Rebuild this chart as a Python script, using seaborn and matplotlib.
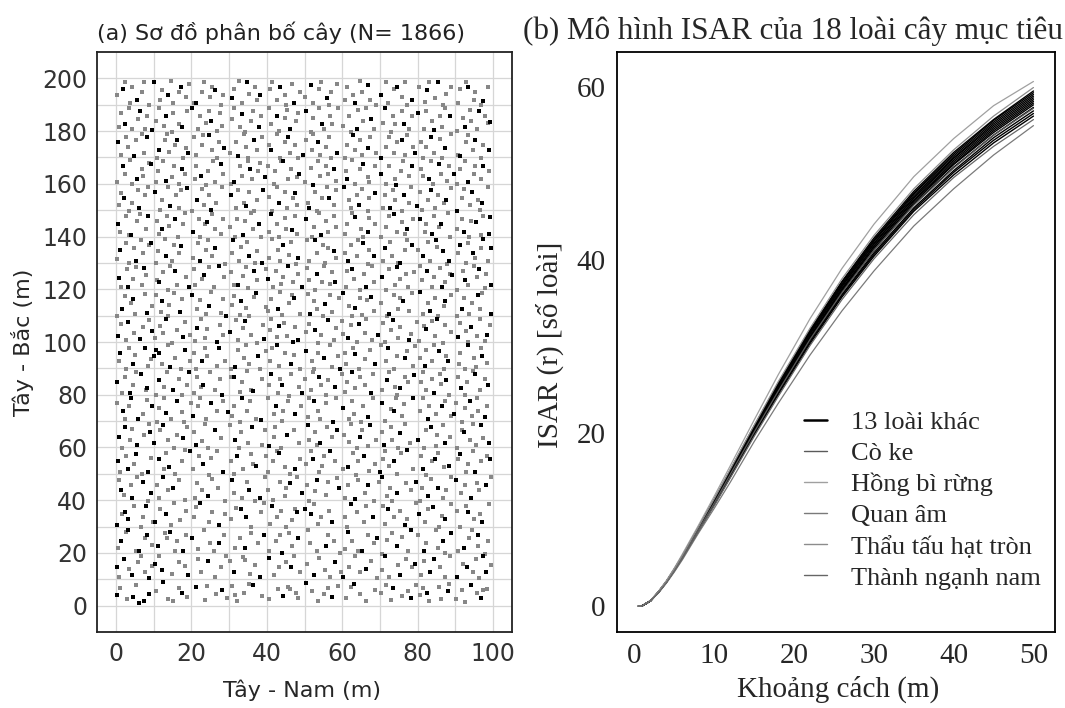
import numpy as np
import pandas as pd
import matplotlib
matplotlib.use("Agg")
import matplotlib.pyplot as plt
from matplotlib.lines import Line2D
import seaborn as sns

# ---- panel (a): tree positions "x,y" in m, suffix b = black (target) tree ----
tree_pts = """
0.4,4.1b 1.2,6.8 2.9,2.7 4.6,3.3b 6.1,0.9b 7.5,1.8b 5.3,7.9 8.8,4.4b 10.7,5.6 12.5,8.8b 13.9,2.4 15.2,1.9 16.8,6.7 17.4,4.8b 18.9,3.1
21.3,6.9b 23.7,2.2 24.1,7.6 26.6,4.5 28.2,5.9b 29.5,3.0 30.8,7.3 32.2,1.6 33.9,4.9 35.4,8.1 36.3,7.7b 38.7,3.8 31.6,4.1
40.5,2.5 42.9,6.4 44.2,3.7b 45.6,6.9 46.1,6.2 47.8,4.8 48.4,2.9 50.3,8.7b 51.9,5.7 53.6,1.8 55.1,4.3 56.2,6.6 57.4,3.2b 58.8,7.4
60.9,2.9 62.3,7.1 63.2,8.3b 64.8,4.6 66.4,1.7 68.7,5.8 70.2,4.9 71.6,8.0 72.8,2.1 73.5,6.6b 75.9,3.7 77.3,5.5 78.1,2.8b 79.6,7.9
80.6,3.9 82.4,4.9b 83.1,1.6 85.7,7.2 86.2,2.4 87.9,5.6b 88.4,8.2 81.3,6.8 90.1,2.7 91.7,5.9 92.6,1.3 94.2,7.8b 95.8,4.7 96.9,2.8b 98.3,6.5 97.4,6.0
0.3,14.6b 0.8,10.9 2.1,17.7b 3.4,13.9 4.2,11.8b 5.9,16.5 7.6,12.8 8.9,10.6b 6.7,18.8 9.5,15.2 10.4,15.8b 12.1,13.6b 11.3,18.9 14.8,12.1 16.6,16.7 18.3,14.9 19.2,11.7b
21.7,17.6 22.5,12.9 24.3,16.8b 26.2,10.7 27.8,14.7 29.1,18.9 31.4,12.7b 30.2,16.9 33.7,18.6 35.5,11.9 36.9,15.6 38.1,10.8b 34.2,17.4
40.6,17.9b 41.8,11.6 43.3,14.6 46.4,14.8b 47.2,18.7 48.9,12.7 45.1,16.6 52.4,11.8b 50.7,15.7 53.9,17.9 55.3,13.6 56.8,10.9 58.1,16.6b 59.6,12.8
60.2,10.8b 61.9,14.7 63.4,18.8 64.6,12.6 66.3,13.8b 67.7,16.9 69.1,10.6 71.3,18.8b 70.6,13.7 72.4,10.9 74.8,15.6 75.2,11.7b 76.9,17.8 78.5,14.8 79.3,15.9b
80.9,11.8 81.6,16.8 83.2,12.7b 84.4,17.6b 85.8,14.6 87.3,10.7 88.6,18.7 90.4,10.8b 91.9,15.8 93.1,14.6b 94.7,12.6 95.5,17.7 97.2,18.8b 98.1,12.7b 99.3,15.6 96.2,10.4
0.6,21.8 1.3,24.7b 2.8,27.9 3.1,28.8b 5.4,20.6 6.2,20.9b 7.7,25.8 8.3,26.7b 9.6,22.9 11.2,22.7b 12.9,27.6 14.4,27.8b 15.7,20.8 16.3,24.6 17.9,20.7b 18.6,26.8 13.6,25.7
20.3,25.7b 21.8,21.6 23.4,28.7 24.9,23.8 26.1,20.9 27.3,23.6b 28.7,26.8 31.5,21.7 32.8,25.6 34.3,21.8b 35.9,27.7 37.6,23.9 39.2,26.7b
40.7,20.8 42.4,24.7 44.1,19.9b 45.8,27.6 46.6,22.7 48.3,25.8b 43.5,26.9 50.9,28.8 51.5,23.7 53.2,20.7 55.6,22.8b 56.3,26.7 57.9,24.6 59.4,19.8
60.8,21.6 61.4,27.9b 62.7,24.7 64.3,20.8 65.1,20.6b 66.9,26.8 68.5,23.7 69.2,25.6b 70.5,19.7 71.9,24.8 73.2,27.7 74.6,22.6b 75.8,25.9 77.4,20.7 78.3,28.8b
80.2,26.8 81.7,20.9b 82.3,23.8 84.8,28.6 85.4,21.7 86.6,24.6b 87.2,19.8 88.9,27.7b 90.7,20.7 92.3,21.8b 93.6,25.7 94.4,28.7 95.9,22.8 96.1,26.9b 97.8,19.6 98.6,24.7
0.2,30.7b 1.6,34.8 2.4,35.7b 3.3,32.8b 4.7,37.9 6.6,29.8 7.3,33.7 8.1,37.8b 9.8,31.6 10.3,31.8b 11.8,36.7 13.2,34.8b 14.6,30.7 15.4,38.9 17.1,32.6 18.7,35.8
20.6,33.7 21.2,37.6 22.3,38.8b 24.8,31.9 25.5,35.7 27.4,30.6b 28.9,34.7 30.4,32.8 31.9,36.9 33.1,36.7b 34.6,33.8b 35.7,29.9 38.4,35.6 39.3,38.8
40.9,30.8 41.3,37.8b 42.6,33.7 43.8,35.9 45.2,29.7 46.7,32.6 47.4,36.8 48.1,35.6b 50.2,36.7b 51.8,34.8b 52.5,38.7 53.7,30.9 54.3,33.6 56.6,35.8 57.2,31.7b
60.6,33.8 61.2,29.8 62.4,38.6b 63.9,35.7 65.7,31.8 66.3,37.9 68.2,33.6b 70.8,37.7 71.4,30.8 72.1,36.6b 73.6,33.7 75.3,35.9 76.7,30.6b 77.2,32.8 79.5,38.8
80.3,34.7b 81.9,31.7 82.6,36.8 84.1,37.6b 85.7,29.8 86.5,33.9 87.3,32.7b 88.8,38.6 90.4,35.8 91.2,29.7 92.7,37.7 93.3,35.6b 94.9,32.8 96.5,34.9 97.1,31.8b 98.8,38.7
0.7,47.8 1.4,43.7b 2.2,41.8 3.9,45.9 4.3,40.7b 5.6,48.9 7.2,46.8b 8.6,39.8 9.4,42.7b 10.8,45.7 11.3,40.8 12.6,48.8b 13.9,43.8 15.2,44.7b 16.7,47.8 18.4,39.9
20.9,40.8 21.5,46.7 22.8,43.9 24.3,41.7b 25.6,47.9 27.1,44.6 28.8,39.8 30.7,47.7b 31.2,42.8 33.4,40.9 34.8,46.8 35.3,43.7b 36.9,39.7 38.2,40.8b 39.5,48.8
40.3,43.8 41.7,39.9 43.6,46.9 44.8,41.7 46.2,46.7b 45.1,44.8 47.9,48.7 49.3,42.6b 50.6,45.8 51.3,39.7 52.9,43.6 53.4,47.8b 55.8,41.8 56.2,46.9 58.7,48.6 59.1,44.7b
60.8,40.8 61.6,45.9 63.3,40.6b 64.1,47.7 65.9,42.8 66.7,45.8b 68.3,39.6 69.7,46.8 70.4,48.8b 71.8,41.6 72.6,44.7 73.2,39.8 74.5,42.7b 76.8,46.6 78.3,43.8 79.6,46.9b
80.5,39.7 81.2,44.8 82.7,41.7b 83.4,47.9 85.3,44.6b 86.8,40.8 87.6,43.9 88.9,48.8 90.2,47.7b 91.6,42.8 92.4,45.9 94.1,40.8b 95.7,46.7 96.3,43.7 98.2,45.8b 99.4,48.7
0.5,54.7b 1.1,50.8 2.6,56.9 3.2,51.7b 4.8,53.8 5.3,57.7b 6.9,49.8 8.4,50.8b 9.2,55.9 11.4,55.8b 12.7,51.9 13.3,57.8 14.1,52.7b 15.8,49.9 17.6,54.8 18.2,58.9 19.7,58.6b
20.4,51.8 21.9,56.7 23.1,53.8b 24.6,49.7 25.3,55.9 26.8,58.8 28.4,50.7b 30.6,54.8 31.3,49.9 32.2,56.8b 33.7,51.9 35.9,57.7 36.4,53.6 37.1,52.8b 39.8,56.7
40.3,50.8 41.6,54.9 42.8,58.7 43.3,57.8b 44.9,52.7 46.2,49.8 47.5,51.7b 48.7,55.8 50.4,53.9 51.7,58.8 52.3,55.8b 53.9,50.7 54.6,52.8 55.2,56.9 56.7,58.6b 58.1,54.7
60.2,51.8 61.4,52.7b 62.9,57.8 63.6,49.7 64.3,54.9 65.8,56.8b 67.2,50.9 68.6,53.8 69.9,50.6b 70.7,55.8 71.3,58.7 72.5,52.8 73.8,54.7b 74.4,49.9 75.6,57.8 77.1,58.9b 78.8,51.7
80.8,56.9 81.4,51.8b 82.2,49.7 83.9,54.8 84.5,55.7b 85.3,57.9 86.9,52.6 88.2,52.8b 90.6,55.8 91.3,57.7b 92.8,50.8 93.4,53.9 94.7,58.8 95.2,50.7b 96.8,54.9 98.4,56.8 99.1,55.6b
0.8,63.8b 1.5,59.9 2.3,67.8b 3.7,62.7 4.2,66.9 5.6,60.8b 7.4,64.7 8.7,68.8 9.1,65.7b 10.2,61.8b 11.6,66.8 12.4,68.7b 13.8,62.9 15.3,59.8 16.1,64.8 17.7,63.7b 18.9,67.8
20.7,65.7 21.2,60.8b 22.9,62.6 23.6,68.8 24.3,59.9 26.4,66.8b 27.8,63.7 30.3,68.7 31.5,62.8b 32.7,59.8 33.2,65.9 34.9,61.7 36.2,67.6b 38.6,60.8 39.4,66.7
40.5,60.7b 41.9,63.8 42.3,67.9 43.7,59.7 45.3,64.9b 47.1,66.8 48.6,61.8 50.8,68.6b 51.2,62.8 52.7,65.7 53.4,60.9 54.1,61.8b 55.9,67.7 57.3,63.8 58.5,66.7b
60.4,64.7 61.7,61.9 62.3,68.8 63.9,59.8 64.6,63.9b 65.2,66.6 66.8,60.7 67.4,68.7b 68.9,62.8 70.6,65.8 71.1,60.9b 72.8,67.7 73.3,62.9 74.7,59.9 75.4,65.6b 76.6,68.9 77.9,61.8
80.1,62.7b 81.7,59.8 82.3,66.7 83.6,67.9b 84.8,60.6 85.2,64.8 86.7,68.6 87.1,61.7b 88.5,63.8 90.3,59.7 91.8,66.6 92.2,65.8b 93.9,62.7 94.6,68.8 95.4,60.9 96.7,68.7b 97.3,63.6 98.9,61.8b
0.4,76.8 1.9,73.7b 2.5,70.9 3.6,75.7 4.1,78.8b 5.8,70.7b 7.3,72.8 8.2,77.9 9.7,75.8b 10.9,69.8 11.4,74.8 12.8,78.7 13.2,72.9b 14.7,70.8 16.3,77.7b 17.6,73.6 18.1,69.7 19.8,76.8
20.5,71.8b 21.7,75.9 22.2,78.8 23.8,70.7 25.1,76.7b 26.9,73.8 28.3,77.7 29.6,73.6b 30.7,71.9 31.3,75.7 32.9,69.8 33.4,78.6b 34.8,73.8 35.6,77.8 37.2,70.8 38.5,70.6b
40.2,78.8 41.8,72.7 42.4,75.8b 43.9,69.9 44.3,73.7 45.7,77.6 47.4,72.8b 49.1,75.9 50.9,71.7 51.3,78.9 52.5,77.8b 53.7,73.9 54.2,70.7 55.8,76.8 57.6,69.8b 58.3,78.7
60.3,74.8b 61.8,70.9 62.6,77.7 63.2,72.8 64.9,69.7 65.4,75.8 66.7,71.7b 68.1,78.6 70.5,76.8b 71.2,69.9 72.9,74.7 73.6,73.8b 74.3,78.7 75.8,71.8 76.4,76.6 78.7,78.8b
80.7,73.7 81.3,78.8 82.6,70.8b 83.1,75.9 84.8,72.7 86.4,75.7b 87.2,77.8 88.9,71.8 89.5,72.7b 90.2,76.7 91.7,69.8 92.4,74.8 93.8,77.7b 94.3,71.9 95.6,78.9 96.1,73.8 97.7,71.7b 98.4,75.8
0.3,84.8b 1.7,80.7 2.4,86.9 3.8,80.8b 4.5,83.7 5.2,88.8 6.6,87.7b 7.9,81.8 8.3,82.7b 10.6,79.8 11.3,85.7b 12.7,82.9 13.5,88.7 15.1,81.8b 16.8,85.9 17.4,79.9 18.9,83.8 19.4,88.6b
20.8,80.8 21.4,86.7 22.6,82.8 23.2,83.6b 24.9,88.8 26.3,81.7 27.7,85.8 28.1,79.8b 30.5,86.8 31.2,86.6b 32.8,80.9 33.3,84.7 34.7,88.9 35.9,81.8 36.4,81.6b 38.8,85.8
40.7,83.8 41.2,87.7b 42.9,80.7 43.6,85.9 44.1,83.7b 45.8,79.7 46.3,87.8 48.6,82.9 49.2,80.8b 50.1,85.8 51.6,81.7 52.2,88.7 53.9,86.8b 54.4,83.6 55.7,79.9 56.3,85.7 58.2,82.8b 59.8,87.8
60.6,80.9 61.3,84.8 62.7,88.6b 63.4,82.7 64.8,86.9 66.1,83.8 67.5,80.8b 68.2,87.7 70.4,81.8 71.8,85.6b 72.3,88.8 73.9,82.9 74.6,79.8 75.2,82.7b 76.7,86.8 77.4,84.8 79.1,87.6b
80.9,84.9 81.5,88.7 82.1,81.8 83.7,85.8 84.3,80.7b 85.8,87.8 86.2,83.9 87.6,85.7b 88.4,79.8 90.8,86.8 91.4,82.7b 92.6,79.9 93.1,84.8 94.7,88.9 95.3,87.7b 96.6,81.8 97.9,85.9 98.5,83.7b
0.9,92.7 1.2,95.8b 2.7,89.9 3.4,97.7 4.6,91.8b 5.1,94.9 7.8,97.8b 8.5,90.8 9.3,93.7 10.2,94.8b 10.7,96.9b 11.5,95.7b 12.3,91.8 13.8,98.7 14.4,90.6b 15.6,93.9 17.2,89.8 18.3,96.8b 19.7,92.8
20.6,95.8 21.3,89.9 22.8,92.7b 23.5,97.8 24.1,94.7 26.7,90.8 27.2,97.7b 28.9,92.9 30.4,89.8 31.6,90.7b 32.3,96.8 33.9,93.8 34.5,98.9 35.2,91.7 37.7,94.8b 38.3,89.7 39.9,96.7
40.8,92.8 41.4,97.9 42.6,98.7b 43.2,90.8 44.7,95.8 46.5,91.7b 47.3,94.9 48.8,89.8 50.3,96.7b 51.9,92.9 52.4,89.7 53.6,95.9 55.1,93.8b 56.7,98.8 57.2,90.7 58.9,94.8 59.5,89.8b
60.7,95.7 61.1,91.8 62.8,97.9 63.3,95.6b 64.5,89.9 65.9,93.7 67.4,96.8 68.6,91.7b 70.3,98.8 71.6,92.7 72.2,97.7b 73.8,89.8 74.4,94.8 76.6,93.9b 77.1,96.7 78.7,90.8 79.2,98.6
80.5,93.8 81.8,90.9b 82.2,96.8 83.7,92.7 84.3,98.9 85.6,96.7b 86.9,89.7 87.4,94.8 88.1,92.8b 90.9,91.8 91.3,95.9 92.6,89.8 93.2,98.7b 94.8,93.8 95.4,90.7 96.7,97.8 97.1,94.7b 98.3,91.9
0.6,102.4b 1.3,106.9 2.8,100.7 3.2,107.5b 4.9,103.6 6.4,101.2b 7.1,105.8 8.7,108.3 9.5,104.1b 10.3,101.6 11.8,106.2 12.5,103.3 13.4,108.9b 14.9,99.8 16.2,104.7 17.7,101.9b 18.4,107.6 19.6,102.5
20.9,100.3 21.4,105.5b 22.6,108.7 23.7,101.4 24.2,104.9 26.8,99.9b 27.5,106.6 28.3,102.8 30.2,103.7b 31.9,108.2 32.4,100.9 33.6,105.3 34.1,107.8b 35.8,102.6 37.3,99.7 38.9,106.4 39.2,101.1b
40.8,104.5 41.1,108.6 42.7,101.8 43.3,105.9b 44.6,107.4 45.4,102.2 46.9,100.1b 47.5,105.6 48.2,100.8b 50.5,103.9 51.2,106.7 52.8,104.6b 53.6,99.8 54.3,102.7 56.1,108.4b 57.7,100.6 58.4,105.2 59.9,107.9
60.1,102.9 61.6,101.7b 62.2,106.5 63.8,100.2 64.4,106.8b 65.9,103.5 66.3,108.7 67.8,100.9 69.5,102.6b 70.7,107.3 71.2,99.9 72.9,104.4 73.4,108.5b 74.8,101.6 75.3,105.7 77.6,100.8b 78.2,103.2 79.9,107.6
80.4,100.5 81.7,105.9 82.3,104.8b 83.9,108.1 84.6,102.4 85.2,108.6b 86.8,99.7 87.3,106.3 88.7,103.8 90.6,101.9b 91.1,107.4 92.9,104.2 93.4,99.9 94.2,105.7b 95.7,102.3 96.4,108.8 97.8,100.4 98.3,102.7b 99.1,106.5
0.2,109.8 1.7,112.6b 2.4,117.3 3.9,114.8 4.5,116.5b 5.1,110.7 7.8,118.4 8.3,110.9b 9.6,113.6 10.5,117.8 11.9,111.3 12.2,115.6b 13.7,109.9 14.1,113.9 15.4,118.7 16.9,111.5b 17.5,116.3
20.2,117.7b 21.6,112.4 22.3,115.8 23.8,110.6 24.7,113.5b 25.2,118.9 27.9,111.2 28.4,116.4 29.3,109.7b 30.9,114.2 31.4,117.6 32.8,110.3 33.1,115.7b 34.6,112.8 35.3,109.8 36.7,116.9 37.2,118.6b 39.8,113.4
40.4,111.7 41.2,116.3 42.9,112.6b 43.5,118.8 44.1,110.2 45.8,114.9 46.6,117.7 47.3,116.8b 48.9,110.5 50.8,118.3 51.4,110.8b 52.6,115.4 53.2,112.7 54.9,109.9 55.3,114.6b 56.7,117.9 57.4,111.3 59.1,116.7
60.3,118.6b 61.9,113.5 62.6,109.8 63.4,112.9b 64.8,116.6 65.2,110.4 66.6,115.8 67.7,116.9b 68.4,111.6 70.2,114.7 71.8,109.9 72.3,110.8b 73.6,117.9 74.9,112.5 75.4,116.8 76.1,115.7b 77.7,111.8 78.5,118.6
80.6,118.8b 81.3,110.6 82.8,114.7 83.2,111.7b 84.7,116.8 85.4,109.8 86.9,113.8 87.3,115.6b 88.8,117.9 90.4,109.9 91.7,112.7b 92.2,116.6 93.6,110.8 94.3,114.9 95.9,117.8b 96.5,112.4 97.1,118.7 99.3,110.6b
0.7,124.3b 1.4,120.8 2.9,127.6 3.3,120.7b 4.6,123.8 5.2,128.6 6.8,121.7 7.4,127.9b 8.1,125.4 10.8,123.5 11.3,122.8b 12.6,126.7 13.9,119.8 14.4,128.7 15.7,126.9b 16.2,121.6 18.5,124.7 19.3,120.9b
20.7,127.8 21.1,121.7 22.8,123.9 23.4,125.6b 24.6,128.6 25.9,120.8 27.2,128.9b 28.6,124.8 30.6,126.7 31.2,121.8 32.3,121.6b 33.8,124.9 34.5,128.5 35.1,120.6 36.7,126.8b 37.3,123.7 39.9,127.6
40.2,123.8b 41.7,120.7 42.4,126.9 43.8,121.9 44.3,124.6 45.6,128.8b 46.9,122.7 48.2,125.9 49.4,120.8b 50.6,127.9 51.2,123.6 52.9,119.9 53.3,125.8b 54.7,122.8 55.1,128.7 56.8,121.9 57.4,126.6 58.2,122.7b
60.9,120.8 61.3,126.9 62.7,127.7b 63.1,123.8 64.6,119.7 65.8,125.9 66.4,120.9b 67.9,128.8 68.3,122.6 70.4,124.8b 71.6,119.9 72.3,127.8 73.9,121.7 74.5,128.6b 75.2,123.9 76.8,125.8 77.3,120.7 78.9,126.7
80.7,128.8 81.2,123.7 82.4,126.8b 83.8,120.9 84.3,124.7 85.9,127.9 86.5,120.8b 87.1,122.9 88.6,125.7 89.2,125.6b 90.3,119.8 91.9,126.8 92.5,123.7b 93.2,121.8 94.8,128.7 95.6,124.8 96.3,127.8b 97.7,120.6 98.2,125.9 99.4,121.7b
0.4,131.6 1.1,134.8b 2.7,137.7 3.5,129.9 4.9,135.8 5.3,130.7b 6.6,138.8 7.2,133.7 8.8,136.8 9.4,137.6b 10.6,129.8 11.2,134.7 12.9,138.9 13.3,132.8b 14.8,130.8 15.5,136.8 16.7,133.8 17.3,136.6b
20.4,131.8 21.7,137.7 22.2,130.9b 23.8,134.8 24.3,138.7 25.6,132.8 26.2,135.7b 28.9,129.7 30.8,133.7 31.1,138.6b 32.6,130.8 33.2,135.9 34.7,137.8 35.3,132.7b 36.9,129.8 37.4,134.7 38.7,129.9b
40.5,131.8 41.3,138.9 42.9,134.8 43.6,130.7 44.2,136.8b 45.8,132.9 46.4,137.8 47.7,129.6 48.3,131.7b 50.6,138.7 51.2,130.8 52.8,138.6b 53.4,133.9 54.9,136.7 55.5,129.8 56.2,135.8 57.7,134.6b 58.3,131.9
60.7,133.8 61.4,130.7b 62.2,136.9 63.8,132.7 64.3,138.8 65.6,137.6b 66.9,129.7 67.1,134.8 68.5,132.8b 70.9,130.9 71.3,135.7b 72.6,137.9 73.2,132.6 74.8,129.8 75.4,129.9b 76.7,134.9 77.2,138.7 78.6,136.7b
80.2,134.8 81.5,132.7b 82.8,137.8 83.3,130.8 84.9,138.6b 85.2,135.9 86.6,134.6b 87.8,129.7 88.4,130.7b 90.7,133.8 91.2,136.8b 92.8,129.9 93.4,137.7 94.6,133.6b 95.1,131.8 96.9,135.7 97.3,138.9b 98.7,130.8 99.5,135.6b
0.6,144.7b 1.2,141.8 2.8,147.9 3.4,140.7 4.1,140.6b 5.7,145.8 6.3,148.7 7.9,142.8 8.5,147.7b 10.9,145.9 11.4,140.8 12.3,142.7b 13.6,147.8 14.2,143.9 15.8,146.7b 16.4,139.8 17.7,144.8 18.3,148.9
20.5,141.7b 21.9,146.8 22.4,139.7 23.7,144.9 24.2,145.7b 25.6,148.6 26.3,142.9 27.8,140.8 28.4,146.7 30.3,143.8 31.7,139.9 32.2,146.8 33.6,140.7b 34.1,145.9 35.8,148.8 36.4,142.7 37.9,144.6b 38.5,139.8
40.6,141.9 41.2,148.7b 42.8,144.8 43.3,139.7 44.7,146.9 45.2,142.8 46.8,142.6b 47.4,147.7 48.1,140.9 50.4,146.8b 51.9,139.9 52.5,143.7 53.8,148.8 54.3,140.7b 55.6,145.9 56.2,141.8 57.7,147.7 58.3,143.8
60.8,140.9 61.2,144.7 62.6,148.8 63.3,147.6b 64.9,142.8 65.4,139.9 66.8,141.8b 67.2,146.9 68.7,144.8 70.2,139.7 71.6,143.8 72.3,147.9 73.8,148.7b 74.4,141.9 75.9,145.7 76.5,140.8 77.1,142.7b 78.8,146.8
80.5,146.7b 81.8,141.6 82.3,144.9 83.7,140.8b 84.2,147.8 85.6,143.7 86.3,144.8b 87.9,148.9 88.6,139.8 90.4,142.9 91.8,146.7 92.3,141.8b 93.7,139.9 94.2,145.8 95.5,145.6b 96.9,140.7 97.4,147.8 98.8,140.9b 99.2,147.6b
0.9,151.8 1.4,156.7 2.2,154.6b 3.6,149.8 4.3,152.9 5.8,157.8 6.2,150.8b 7.7,155.7 8.4,158.9 10.3,156.8b 11.6,149.9 12.2,153.7 13.7,158.8 14.3,151.7b 15.9,155.8 16.6,150.7 17.2,157.7 18.8,158.6b
20.2,149.8 21.5,153.7b 22.9,157.9 23.4,151.8 24.8,155.6 25.3,149.9b 26.6,152.8 28.2,158.7 30.4,155.8b 31.8,150.7 32.3,157.7 33.9,152.9 34.5,151.6b 35.2,156.8 36.7,149.7 37.3,153.8 38.9,157.6b
40.7,154.9 41.3,149.8 42.6,158.8 43.2,152.7b 44.8,156.9 45.4,150.8 46.9,154.7 47.5,156.6b 48.1,151.9 50.8,152.7 51.3,150.9b 52.7,156.8 53.2,149.7 54.6,154.8 55.9,158.9 56.4,154.6b 57.8,151.8 58.3,157.7
60.4,158.7b 61.7,153.8 62.2,150.9 63.9,155.7 64.5,151.8b 65.3,157.9 66.8,149.8 67.2,154.8 68.7,156.7b 70.9,150.7 71.3,155.9 72.7,150.8b 73.5,157.7 74.1,153.9 75.8,149.7 76.4,155.8b 77.6,152.7 78.2,158.8 79.7,151.6b
80.6,156.9 81.2,149.9 82.8,153.8 83.4,157.7b 84.7,150.8 85.3,155.7 86.9,152.9 87.4,153.7b 88.8,158.6 90.3,149.8b 91.7,154.8 92.2,157.9 93.8,151.8 94.3,156.8b 95.9,153.7 96.5,149.9 97.1,152.8b 98.6,158.7
0.3,160.8 1.8,166.7b 2.4,163.8 3.7,168.9 4.2,159.9 5.6,161.8b 6.9,165.7 7.3,162.8 8.8,167.8 9.4,167.6b 10.7,160.7 11.2,164.8 12.6,168.8 13.3,160.9b 14.9,162.7 15.4,166.9 16.8,159.8 17.6,165.7b 18.2,163.9
20.9,161.9 21.2,166.8 22.5,162.8b 23.9,159.7 24.3,164.8 25.7,168.7 26.2,160.8 27.8,167.7b 28.4,163.7 30.6,159.9 31.3,160.7b 32.8,166.8 33.4,162.9 34.9,168.8 35.6,165.7b 36.2,161.8 37.7,164.9 38.3,167.8 39.6,162.7b
40.4,166.8 41.9,159.8 42.3,164.7 43.8,168.6 44.2,168.8b 45.7,161.9 46.3,165.8 47.9,162.7 48.5,163.8b 50.2,160.8 51.8,165.9 52.3,159.7b 53.6,168.8 54.1,162.8 55.7,166.7 56.3,163.9 57.8,165.6b 58.4,160.9
60.9,164.8 61.2,161.7b 62.7,168.9 63.3,159.8 64.8,165.7 65.4,167.6b 66.9,162.7 67.2,160.8 68.6,166.9 70.3,163.7b 71.7,159.9 72.4,166.8 73.9,161.9 74.3,159.7b 75.6,164.8 76.2,168.7 77.7,162.9 78.4,166.6b
80.8,165.8 81.3,162.8 82.9,161.7b 83.5,168.8 84.1,159.9 85.7,167.7b 86.3,163.8 87.8,160.9 88.4,166.7 89.6,163.8b 90.5,159.8 91.2,165.7 92.6,168.8 93.3,160.7b 94.8,163.9 95.3,166.8 96.7,161.8 97.2,166.6b 98.8,164.7
0.5,175.8b 1.3,170.9 2.8,177.7 3.2,173.8 4.7,170.7b 5.4,176.8 6.9,178.9 7.5,171.8 8.2,177.7b 10.8,169.9 11.4,172.8b 12.9,176.7 13.5,178.8 14.2,171.9 15.7,174.7 16.3,176.8b 17.8,169.8 18.6,173.7 19.2,171.7b
20.6,177.8 21.3,170.8 22.7,174.9 23.2,178.7 24.8,178.6b 25.4,172.8 26.9,169.7 27.3,175.8 28.7,173.6b 30.2,171.8 31.8,175.7 32.4,170.6b 33.9,178.8 34.5,173.9 35.1,169.8 36.6,176.7b 37.3,172.8 38.8,177.9
40.7,174.8 41.2,172.9b 42.6,178.8 43.4,169.7 44.9,175.8 45.5,177.6b 46.1,171.8 47.6,174.7 48.3,169.9 49.7,170.8b 50.4,176.8 51.9,172.7 52.3,178.9 53.7,175.7b 54.2,170.8 55.8,173.9 56.5,177.8 57.1,169.8 58.6,171.7b
60.6,169.9 61.2,174.8 62.8,178.6b 63.3,172.7 64.6,176.8 65.2,170.9 66.7,173.6b 67.4,177.7 68.9,171.8 70.2,169.7b 71.6,173.8 72.3,177.9 73.8,171.7 74.4,175.8 75.9,176.7b 76.5,170.8 77.2,178.7 78.7,173.9 79.3,171.6b
80.9,175.7 81.5,169.9 82.1,173.8 83.6,177.7b 84.3,171.8 85.8,176.9 86.4,169.8 87.1,173.7b 88.7,178.8 90.6,170.8 91.2,170.6b 92.8,175.9 93.3,178.7 94.7,172.8 95.2,176.6b 96.8,169.7 97.4,174.8 98.9,172.7b
0.8,181.7 1.4,186.8 2.3,182.6b 3.6,188.8 4.2,180.9 5.9,184.7 6.4,187.7b 7.8,180.8 8.3,185.9 9.7,180.6b 10.6,183.8 11.3,188.7 12.8,181.9 13.4,185.8b 14.9,179.8 15.2,186.9 16.7,182.8 17.4,181.6b 18.9,187.8
20.3,188.6b 21.7,180.8 22.4,185.7 23.9,182.9 24.6,187.8 25.2,183.7b 26.8,179.9 27.5,186.8 28.2,181.8 30.7,184.7 31.3,188.9 32.9,181.7 33.5,186.6b 34.1,179.8 35.7,183.9 36.3,187.8 37.8,181.7b 38.4,185.8
40.6,188.8 41.2,182.7 42.8,185.6b 43.3,179.9 44.9,184.8 45.4,187.9 46.2,180.8b 47.7,183.7 48.3,186.8 50.4,187.7b 51.8,179.8 52.3,184.9 53.9,188.8 54.5,182.7b 55.1,180.9 56.7,185.8 57.3,182.8 58.8,188.7
60.3,181.8 61.8,185.9 62.4,179.7 63.9,180.8b 64.3,187.9 65.6,183.8 66.2,188.8 67.7,184.6b 68.3,180.7 70.8,182.9 71.4,188.6b 72.9,179.8 73.5,185.7 74.1,182.7 75.7,187.8 76.3,182.6b 77.8,180.8 78.4,185.9
80.2,186.7b 81.7,180.9 82.3,187.8 83.8,183.7 84.4,180.6b 85.9,185.8 86.5,181.7 87.1,188.9 88.6,185.6b 90.3,179.9 91.9,184.8 92.4,181.6b 93.8,187.9 94.2,183.8 95.7,180.7 96.3,187.6b 97.9,185.8 98.5,182.9 99.2,183.6b
0.4,193.7 1.8,195.8b 2.3,198.8 3.7,190.8 4.2,196.9 5.6,191.7b 6.9,194.8 7.4,198.7 8.8,189.9 10.2,198.6b 11.8,191.8 12.3,195.7 13.9,193.6b 14.5,198.9 15.2,190.7 16.8,194.9 17.3,196.8b 18.7,192.8 19.4,197.7
20.6,190.8 21.2,190.6b 22.8,194.7 23.3,198.8 24.9,192.9 25.6,196.8 26.2,195.7b 27.8,189.8 28.4,193.8 30.7,192.7b 31.2,195.8 32.6,198.9 33.3,190.7 34.8,198.6b 35.4,193.9 36.9,196.8 37.5,191.7 38.1,193.6b
40.9,195.8 41.3,198.8 42.7,191.9 43.4,196.7b 44.8,193.8 45.2,189.8 46.6,197.9 47.3,190.7b 48.8,194.8 50.2,192.8 51.7,197.6b 52.3,190.8 53.8,195.9 54.4,198.8 55.9,192.6b 56.5,189.9 57.1,194.8 58.7,197.7
60.8,191.8 61.3,196.7 62.9,193.8 63.4,190.6b 64.6,198.9 65.2,194.7 66.7,197.6b 67.3,191.9 68.9,189.8 70.3,193.7b 71.7,198.8 72.2,190.8 73.8,195.8 74.4,196.6b 75.9,192.8 76.5,198.7 77.2,189.9 78.6,191.7b
80.4,196.8 81.9,190.9 82.5,195.6b 83.1,198.8 84.7,192.7 85.3,198.6b 86.8,189.8 87.4,193.9 88.9,196.7 90.6,190.8 91.2,195.9 92.8,198.8 93.4,196.6b 94.9,191.8 95.3,194.7 96.7,189.9 97.2,191.6b 98.6,196.8
"""

# ---- panel (b): ISAR curves, distance r (m) ----
dist = [0.5, 1, 2, 3, 4, 5, 6, 8, 10, 12, 15, 18, 22, 26, 30, 35, 40, 45, 50]

co_ke = [0, 0.05, 0.6, 1.6, 2.8, 4.15, 5.65, 8.8, 11.9, 15.2, 20.1, 24.8, 30.8, 36.2, 41.1, 46.3, 50.6, 54.4, 57.5]
hong_bi_rung = [0, 0.05, 0.65, 1.7, 2.95, 4.4, 6.0, 9.3, 12.7, 16.2, 21.5, 26.7, 33.2, 39.0, 44.1, 49.6, 54.0, 57.8, 60.6]
quan_am = [0, 0.05, 0.6, 1.5, 2.65, 3.95, 5.35, 8.4, 11.3, 14.3, 19.0, 23.4, 29.0, 34.1, 38.7, 43.9, 48.2, 52.1, 55.5]
thau_tau = [0, 0.05, 0.6, 1.65, 2.85, 4.3, 5.85, 9.1, 12.4, 15.8, 20.9, 25.9, 32.1, 37.8, 42.8, 48.2, 52.7, 56.6, 59.9]
thanh_nganh = [0, 0.05, 0.6, 1.55, 2.7, 4.05, 5.5, 8.6, 11.6, 14.8, 19.6, 24.2, 30.1, 35.4, 40.1, 45.2, 49.5, 53.1, 56.2]

others = [
    [0, 0.05, 0.6, 1.6, 2.75, 4.1, 5.55, 8.6, 11.7, 14.9, 19.8, 24.4, 30.3, 35.7, 40.4, 45.6, 49.8, 53.5, 56.6],
    [0, 0.05, 0.6, 1.6, 2.75, 4.1, 5.6, 8.7, 11.8, 15.0, 19.9, 24.6, 30.5, 35.9, 40.6, 45.8, 50.1, 53.8, 56.9],
    [0, 0.05, 0.6, 1.6, 2.8, 4.15, 5.6, 8.7, 11.9, 15.1, 20.0, 24.7, 30.7, 36.0, 40.8, 46.0, 50.3, 54.1, 57.2],
    [0, 0.05, 0.6, 1.6, 2.8, 4.15, 5.65, 8.8, 11.9, 15.2, 20.1, 24.9, 30.9, 36.3, 41.1, 46.4, 50.7, 54.4, 57.6],
    [0, 0.05, 0.6, 1.6, 2.8, 4.2, 5.7, 8.8, 12.0, 15.3, 20.2, 25.0, 31.0, 36.5, 41.3, 46.6, 51.0, 54.7, 57.9],
    [0, 0.05, 0.6, 1.6, 2.8, 4.2, 5.7, 8.9, 12.0, 15.3, 20.3, 25.1, 31.1, 36.6, 41.5, 46.8, 51.1, 54.9, 58.1],
    [0, 0.05, 0.6, 1.6, 2.8, 4.2, 5.7, 8.9, 12.1, 15.4, 20.4, 25.2, 31.2, 36.7, 41.6, 46.9, 51.3, 55.1, 58.3],
    [0, 0.05, 0.6, 1.6, 2.8, 4.2, 5.7, 8.9, 12.1, 15.4, 20.4, 25.2, 31.4, 36.9, 41.8, 47.1, 51.5, 55.3, 58.5],
    [0, 0.05, 0.6, 1.6, 2.8, 4.2, 5.75, 9.0, 12.2, 15.5, 20.5, 25.3, 31.5, 37.0, 41.9, 47.2, 51.7, 55.5, 58.7],
    [0, 0.05, 0.6, 1.6, 2.8, 4.25, 5.75, 9.0, 12.2, 15.5, 20.6, 25.4, 31.6, 37.1, 42.1, 47.4, 51.8, 55.7, 58.9],
    [0, 0.05, 0.6, 1.6, 2.8, 4.25, 5.75, 9.0, 12.2, 15.6, 20.6, 25.5, 31.7, 37.2, 42.2, 47.6, 52.0, 55.9, 59.1],
    [0, 0.05, 0.6, 1.65, 2.85, 4.25, 5.8, 9.0, 12.3, 15.6, 20.7, 25.6, 31.8, 37.4, 42.3, 47.7, 52.2, 56.1, 59.3],
    [0, 0.05, 0.6, 1.65, 2.85, 4.3, 5.8, 9.1, 12.3, 15.7, 20.8, 25.7, 31.9, 37.5, 42.5, 47.9, 52.4, 56.2, 59.5],
]

target_names = ["Cò ke", "Hồng bì rừng", "Quan âm", "Thẩu tấu hạt tròn", "Thành ngạnh nam"]
target_curves = [co_ke, hong_bi_rung, quan_am, thau_tau, thanh_nganh]
target_colors = ["#5a5a5a", "#a0a0a0", "#7a7a7a", "#8c8c8c", "#666666"]

SERIF = ["Liberation Serif", "DejaVu Serif"]


def parse_trees(txt):
    rows = []
    for tok in txt.split():
        kind = "black" if tok.endswith("b") else "grey"
        x, y = tok.rstrip("b").split(",")
        rows.append((float(x), float(y), kind))
    return pd.DataFrame(rows, columns=["x", "y", "kind"])


def map_panel(ax):
    trees = parse_trees(tree_pts)
    grey = trees[trees.kind == "grey"]
    black = trees[trees.kind == "black"]
    sns.scatterplot(data=grey, x="x", y="y", color="#878787", marker="s", s=9,
                    linewidth=0, ax=ax)
    sns.scatterplot(data=black, x="x", y="y", color="black", marker="s", s=12,
                    linewidth=0, ax=ax)
    ax.set_xlim(-5, 105)
    ax.set_ylim(-10, 210)
    ax.set_xticks(range(0, 101, 20))
    ax.set_xticks(range(10, 100, 20), minor=True)
    ax.set_yticks(range(0, 201, 20))
    ax.set_yticks(range(10, 200, 20), minor=True)
    ax.grid(which="both", color="#d6d6d6", lw=0.9)
    ax.set_axisbelow(True)
    ax.tick_params(which="major", length=4, width=0.9, color="#333333",
                   labelsize=17, labelcolor="#333333", pad=3)
    ax.tick_params(which="minor", length=0)
    for sp in ax.spines.values():
        sp.set_color("#222222")
        sp.set_linewidth(1.3)
    ax.set_xlabel("Tây - Nam (m)", fontsize=16, va="center")
    ax.xaxis.set_label_coords(0.494, -0.1)
    ax.set_ylabel("Tây - Bắc (m)", fontsize=16, va="center")
    ax.yaxis.set_label_coords(-0.18, 0.5)


def isar_panel(ax):
    for curve in others:
        sns.lineplot(x=dist, y=curve, color="black", lw=1.0, ax=ax)
    for curve, col in zip(target_curves, target_colors):
        sns.lineplot(x=dist, y=curve, color=col, lw=0.9, ax=ax)
    ax.set_xlim(-2.2, 52.7)
    ax.set_ylim(-3, 64)
    ax.set_xticks(range(0, 51, 10))
    ax.set_yticks([0, 20, 40, 60])
    ax.tick_params(length=5, width=0.9, color="black", labelsize=21, pad=3)
    for lbl in ax.get_xticklabels() + ax.get_yticklabels():
        lbl.set_fontfamily(SERIF)
    for sp in ax.spines.values():
        sp.set_color("black")
        sp.set_linewidth(1.3)
    ax.set_xlabel("Khoảng cách (m)", fontsize=21, va="center", family=SERIF)
    ax.xaxis.set_label_coords(0.505, -0.098)
    ax.set_ylabel("ISAR (r) [số loài]", fontsize=21, va="center", family=SERIF)
    ax.yaxis.set_label_coords(-0.153, 0.495)

    handles = [Line2D([], [], color="black", lw=1.8)]
    handles += [Line2D([], [], color=c, lw=1.0) for c in target_colors]
    labels = ["13 loài khác"] + target_names
    ax.legend(handles, labels, loc="upper left", bbox_to_anchor=(0.404, 0.40),
              frameon=False, prop={"family": SERIF, "size": 19},
              handlelength=0.85, handletextpad=0.9,
              labelspacing=0.29, borderaxespad=0)


def main():
    sns.set_theme(style="white")
    plt.rcParams["font.family"] = ["DejaVu Sans"]

    fig = plt.figure(figsize=(10.65, 7.08), dpi=100)
    ax1 = fig.add_axes([0.0911, 0.1073, 0.3897, 0.8192])
    ax2 = fig.add_axes([0.5793, 0.1073, 0.4113, 0.8192])

    map_panel(ax1)
    isar_panel(ax2)

    fig.text(0.0911, 1 - 33 / 708, "(a) Sơ đồ phân bố cây (N= 1866)", fontsize=16,
             family=["DejaVu Sans"], ha="left", va="center", color="#222222")
    fig.text(523 / 1065, 1 - 31 / 708, "(b) Mô hình ISAR của 18 loài cây mục tiêu",
             fontsize=22.4, family=SERIF, ha="left", va="center")

    fig.savefig("out.png", dpi=100, facecolor="white")


if __name__ == "__main__":
    main()
